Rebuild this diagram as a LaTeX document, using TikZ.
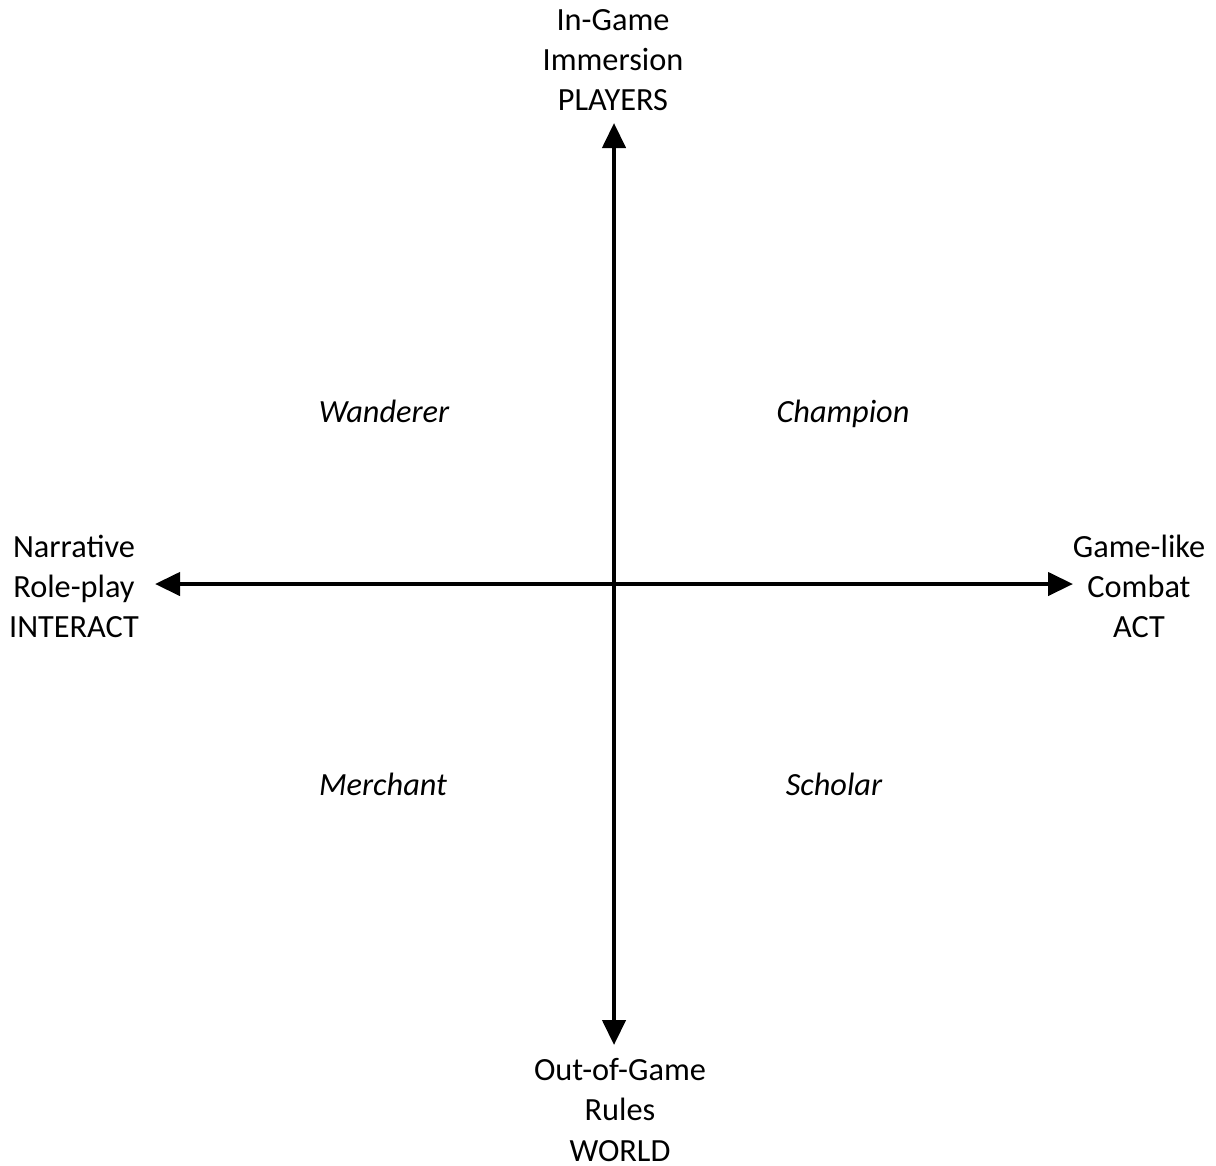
\documentclass[tikz,border=0pt]{standalone}
\usepackage{fontspec}
\setmainfont{Carlito}
\usetikzlibrary{arrows.meta}
\begin{document}
\begin{tikzpicture}[
  axis/.style={line width=1.2pt, -{Triangle[length=2.5mm,width=2.3mm]}},
  lbl/.style={align=center, inner sep=0pt, font=\fontsize{9.2}{11.4}\selectfont},
  quad/.style={inner sep=0pt, anchor=base, font=\fontsize{9.2}{11.4}\selectfont\itshape}
]
\useasboundingbox (0,0) rectangle (12.16,11.65);
\coordinate (c) at (6.14,5.81);
\coordinate (top) at (6.14,10.42);
\coordinate (bot) at (6.14,1.20);
\coordinate (lft) at (1.55,5.81);
\coordinate (rgt) at (10.73,5.81);
\draw[axis] (c) -- (top);
\draw[axis] (c) -- (bot);
\draw[axis] (c) -- (lft);
\draw[axis] (c) -- (rgt);
\node[lbl] (tl) at (6.13,11.05) {In-Game\\Immersion\\PLAYERS};
\node[lbl] (bl) at (6.20,0.55) {Out-of-Game\\Rules\\WORLD};
\node[lbl] (ll) at (0.74,5.79) {Narrative\\Role-play\\INTERACT};
\node[lbl] (rl) at (11.39,5.79) {Game-like\\Combat\\ACT};
\node[quad] (w) at (3.84,7.43) {Wanderer};
\node[quad] (ch) at (8.43,7.43) {Champion};
\node[quad] (m) at (3.83,3.70) {Merchant};
\node[quad] (s) at (8.34,3.70) {Scholar};
\end{tikzpicture}
\end{document}
